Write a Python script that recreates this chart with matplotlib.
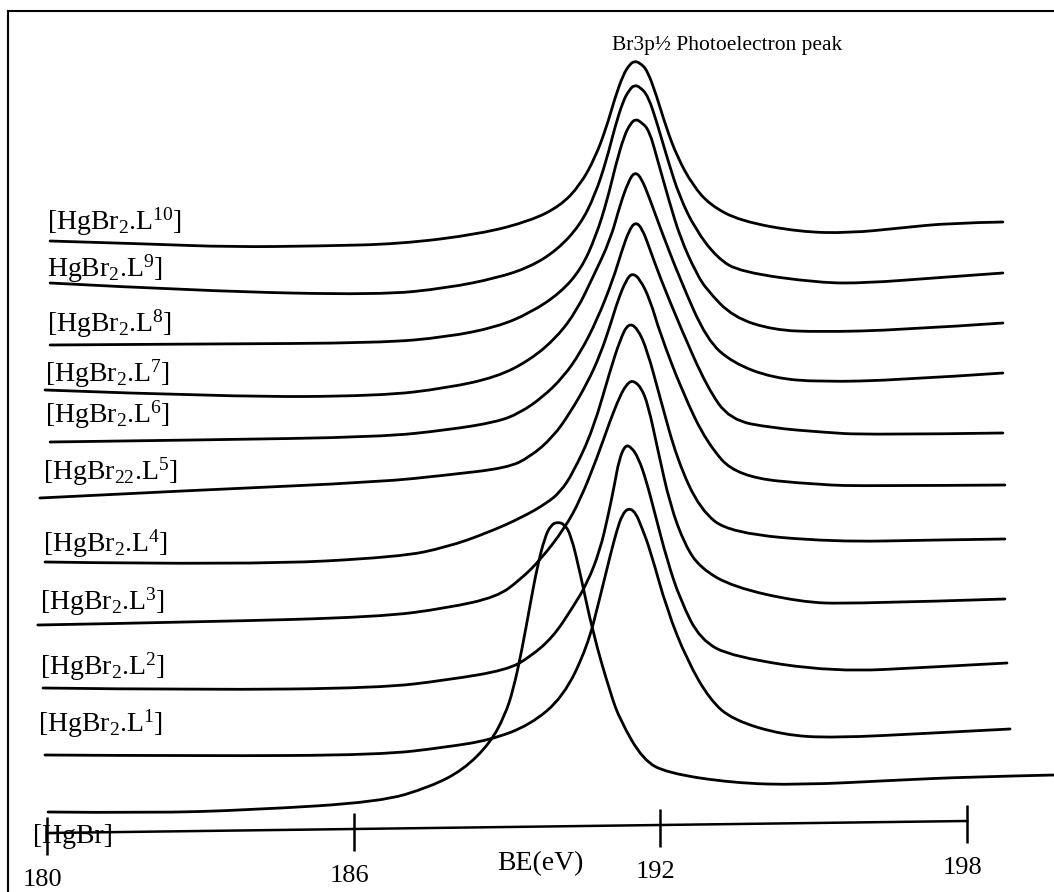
import numpy as np
import matplotlib
matplotlib.use('Agg')
import matplotlib.pyplot as plt
from matplotlib.path import Path
from matplotlib.patches import PathPatch
from matplotlib.lines import Line2D

plt.rcParams['font.family'] = 'Liberation Serif'
plt.rcParams['mathtext.fontset'] = 'custom'
plt.rcParams['mathtext.rm'] = 'Liberation Serif'
plt.rcParams['mathtext.it'] = 'Liberation Serif:italic'

# binding energy (eV) and intensity (a.u.)
be_L10 = [180.06, 182.02, 183.58, 185.34, 186.91, 188.47, 189.45, 190.04, 190.43, 190.72, 190.94, 191.11, 191.27,
          191.39, 191.49, 191.60, 191.74, 191.92, 192.11, 192.33, 192.63, 192.97, 193.56, 194.73, 195.71, 196.69,
          197.67, 198.70]
y_L10 = [651, 648, 645, 646, 648, 658, 671, 686, 707, 734, 764, 794, 817,
         827, 831, 829, 822, 797, 765, 735, 707, 687, 671, 660, 659, 664,
         669, 670]

be_L9 = [180.06, 182.99, 186.52, 187.83, 188.80, 189.45, 189.98, 190.43, 190.72, 190.94, 191.11, 191.27, 191.39,
         191.49, 191.60, 191.76, 191.94, 192.15, 192.37, 192.68, 193.11, 193.56, 195.12, 196.04, 197.34, 198.70]
y_L9 = [609, 601, 597, 604, 614, 625, 642, 667, 697, 731, 765, 791, 802,
        807, 805, 796, 768, 731, 696, 663, 634, 620, 609, 609, 614, 619]

be_L8 = [180.06, 182.99, 186.52, 187.83, 188.80, 189.45, 190.04, 190.45, 190.74, 190.96, 191.13, 191.29, 191.41,
         191.51, 191.62, 191.78, 191.95, 192.17, 192.39, 192.70, 192.91, 193.42, 194.20, 195.12, 196.69, 198.70]
y_L8 = [547, 548, 549, 555, 565, 579, 599, 623, 656, 692, 728, 756, 768,
        773, 770, 762, 731, 691, 654, 619, 602, 575, 562, 560, 562, 569]

be_L7 = [179.96, 183.58, 186.52, 187.83, 188.80, 189.45, 189.98, 190.37, 190.68, 191.02, 191.21, 191.37, 191.49,
         191.62, 191.80, 191.99, 192.39, 192.91, 193.42, 194.20, 195.12, 196.69, 198.70]
y_L7 = [502, 495, 496, 504, 515, 532, 555, 582, 615, 652, 687, 710, 720,
        715, 692, 665, 612, 552, 529, 514, 510, 512, 519]

be_L6 = [180.06, 182.99, 186.52, 187.83, 188.80, 189.25, 189.70, 190.10, 190.43, 190.76, 191.07, 191.25, 191.39,
         191.51, 191.64, 191.80, 191.99, 192.39, 192.91, 193.36, 194.20, 195.12, 196.04, 198.70]
y_L6 = [450, 452, 455, 462, 470, 479, 495, 515, 539, 572, 612, 642, 662,
        670, 664, 642, 615, 565, 505, 472, 464, 460, 457, 459]

be_L5 = [179.86, 182.99, 186.52, 187.83, 189.00, 189.45, 189.90, 190.23, 190.57, 190.82, 191.02, 191.17, 191.33,
         191.45, 191.60, 191.80, 191.99, 192.44, 192.91, 193.50, 195.12, 196.10, 198.74]
y_L5 = [394, 402, 410, 417, 424, 435, 455, 479, 509, 537, 567, 592, 612,
        619, 613, 592, 559, 499, 449, 415, 407, 406, 407]

be_L4 = [179.96, 183.97, 186.91, 187.83, 188.61, 189.31, 189.78, 190.04, 190.29, 190.68, 191.02, 191.21, 191.37,
         191.55, 191.74, 191.99, 192.33, 192.78, 193.36, 195.38, 197.34, 198.74]
y_L4 = [330, 327, 335, 345, 359, 375, 389, 400, 419, 462, 522, 552, 569,
        564, 542, 495, 432, 382, 359, 350, 352, 353]

be_L3 = [179.82, 182.99, 186.52, 187.83, 188.80, 189.25, 189.65, 190.13, 190.43, 190.76, 191.02, 191.21, 191.33,
         191.45, 191.62, 191.76, 191.95, 192.19, 192.48, 192.78, 193.42, 194.73, 195.71, 198.74]
y_L3 = [267, 270, 275, 284, 295, 312, 332, 364, 392, 434, 472, 496, 507,
        512, 505, 487, 442, 387, 347, 324, 305, 290, 288, 293]

be_L2 = [179.92, 182.99, 186.52, 187.83, 189.00, 189.45, 189.90, 190.29, 190.57, 190.82, 190.98, 191.10, 191.19,
         191.31, 191.43, 191.57, 191.72, 191.90, 192.13, 192.39, 192.78, 193.42, 195.38, 197.34, 198.78]
y_L2 = [204, 202, 204, 212, 222, 235, 255, 285, 309, 342, 377, 407, 432,
        447, 445, 434, 412, 377, 332, 292, 252, 235, 220, 225, 229]

be_L1 = [179.96, 182.99, 186.52, 187.83, 188.67, 189.45, 190.10, 190.57, 190.82, 191.02, 191.15, 191.25, 191.37,
         191.51, 191.64, 191.80, 192.13, 192.52, 192.97, 193.42, 194.40, 195.38, 197.34, 198.84]
y_L1 = [137, 136, 137, 145, 152, 167, 195, 245, 295, 337, 362, 377, 384,
        380, 364, 342, 282, 232, 192, 172, 157, 154, 159, 163]

be_HgBr = [180.02, 182.02, 183.97, 186.52, 187.49, 188.14, 188.67, 188.96, 189.12, 189.29, 189.45, 189.59, 189.74,
           189.86, 189.98, 190.12, 190.25, 190.43, 190.68, 191.02, 191.21, 191.66, 192.13, 193.42, 194.73, 196.69,
           198.00, 199.70]
y_HgBr = [80, 79, 82, 90, 105, 122, 149, 177, 202, 242, 287, 325, 355,
          367, 370, 368, 357, 319, 259, 199, 172, 132, 119, 109, 107, 112,
          115, 117]

series = [(be_L10, y_L10), (be_L9, y_L9), (be_L8, y_L8), (be_L7, y_L7), (be_L6, y_L6), (be_L5, y_L5),
          (be_L4, y_L4), (be_L3, y_L3), (be_L2, y_L2), (be_L1, y_L1), (be_HgBr, y_HgBr)]

labels = [r'[HgBr$_{\mathrm{2}}$.L$^{\mathrm{10}}$]', r'HgBr$_{\mathrm{2}}$.L$^{\mathrm{9}}$]',
          r'[HgBr$_{\mathrm{2}}$.L$^{\mathrm{8}}$]', r'[HgBr$_{\mathrm{2}}$.L$^{\mathrm{7}}$]',
          r'[HgBr$_{\mathrm{2}}$.L$^{\mathrm{6}}$]', r'[HgBr$_{\mathrm{22}}$.L$^{\mathrm{5}}$]',
          r'[HgBr$_{\mathrm{2}}$.L$^{\mathrm{4}}$]', r'[HgBr$_{\mathrm{2}}$.L$^{\mathrm{3}}$]',
          r'[HgBr$_{\mathrm{2}}$.L$^{\mathrm{2}}$]', r'[HgBr$_{\mathrm{2}}$.L$^{\mathrm{1}}$]', '[HgBr]']
label_x = [180.00, 180.00, 180.00, 179.96, 179.96, 179.92, 179.92, 179.86, 179.86, 179.82, 179.73]
label_y = [662, 615, 560, 510, 469, 412, 340, 282, 217, 160, 49]

tick_vals = [180, 186, 192, 198]
axis_x = [180, 198]
axis_y = [59, 71]

fig = plt.figure(figsize=(10.54, 8.92), dpi=100)
ax = fig.add_axes([0, 0, 1, 1])
ax.set_xlim(179.08, 199.70)
ax.set_ylim(0, 892)
ax.axis('off')


def smooth_path(xs, ys):
    # quadratic B-spline: read points act as control points, curve runs through their midpoints
    p = np.column_stack([xs, ys])
    verts = [p[0]]
    codes = [Path.MOVETO]
    for i in range(1, len(p) - 1):
        end = p[-1] if i == len(p) - 2 else (p[i] + p[i + 1]) / 2
        verts += [p[i], end]
        codes += [Path.CURVE3, Path.CURVE3]
    return Path(verts, codes)


for xs, ys in series:
    ax.add_patch(PathPatch(smooth_path(xs, ys), fill=False, lw=2.0, ec='black', capstyle='round'))

for lab, lx, ly in zip(labels, label_x, label_y):
    ax.text(lx, ly, lab, fontsize=20, ha='left', va='baseline')

# hand drawn energy axis
ax.plot(axis_x, axis_y, color='black', lw=1.8)
tick_y = np.interp(tick_vals, axis_x, axis_y)
ax.vlines(tick_vals, tick_y - 22, tick_y + 16, color='black', lw=1.8)
for t, ty in zip(tick_vals, tick_y):
    ax.text(t - 0.09, ty - 53, str(t), fontsize=19, ha='center', va='baseline')
ax.text(189.65, 22, 'BE(eV)', fontsize=20, ha='center', va='baseline')

ax.text(193.30, 842, 'Br3p½ Photoelectron peak', fontsize=15.5, ha='center', va='baseline')

# frame of the scanned figure
fig.add_artist(Line2D([8 / 1054, 1], [1 - 11 / 892, 1 - 11 / 892], transform=fig.transFigure, color='black', lw=1.5))
fig.add_artist(Line2D([8 / 1054, 8 / 1054], [0, 1 - 11 / 892], transform=fig.transFigure, color='black', lw=1.5))

fig.savefig('out.png', dpi=100)
